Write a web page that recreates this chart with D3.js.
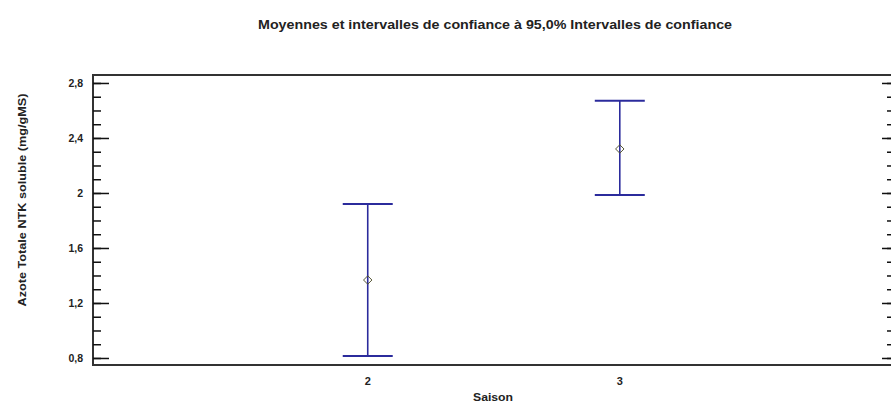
<!DOCTYPE html>
<html>
<head>
<meta charset="utf-8">
<script src="https://cdn.jsdelivr.net/npm/d3@7"></script>
<style>
  body { margin: 0; background: #fff; }
  svg text { font-family: "Liberation Sans", Arial, sans-serif; font-weight: bold; fill: #222; }
</style>
</head>
<body>
<div id="chart"></div>
<script>
// data
var saisons = [2, 3];
var moyennes = [1.367, 2.32];
var bornesInf = [0.815, 1.985];
var bornesSup = [1.92, 2.67];
var yTicks = [0.8, 1.2, 1.6, 2, 2.4, 2.8];
var xTicks = [2, 3];

var width = 891, height = 407;
var margin = {top: 75, right: -1, bottom: 42, left: 93};

var svg = d3.select("#chart")
  .append("svg")
  .attr("width", width)
  .attr("height", height);

var x = d3.scaleLinear()
  .domain([0.91, 4.08])
  .range([margin.left, width - margin.right]);

var y = d3.scaleLinear()
  .domain([0.749, 2.858])
  .range([height - margin.bottom, margin.top]);

var fmt = function (d) { return String(d).replace(".", ","); };

// title
svg.append("text")
  .attr("x", 495)
  .attr("y", 29)
  .attr("text-anchor", "middle")
  .attr("textLength", 474)
  .attr("lengthAdjust", "spacingAndGlyphs")
  .style("font-size", "12.5px")
  .text("Moyennes et intervalles de confiance à 95,0% Intervalles de confiance");

// frame
svg.append("rect")
  .attr("x", margin.left)
  .attr("y", margin.top)
  .attr("width", width - margin.right - margin.left)
  .attr("height", height - margin.bottom - margin.top)
  .attr("fill", "none")
  .attr("stroke", "#333")
  .attr("stroke-width", 2);

// minor ticks
var minor = d3.range(0.8, 2.81, 0.1);

// left axis
var left = svg.append("g")
  .attr("transform", "translate(" + margin.left + ",0)");
left.append("g")
  .call(d3.axisRight(y).tickValues(minor).tickSize(8).tickFormat(""))
  .call(function (g) { g.select(".domain").remove(); });
left.append("g")
  .call(d3.axisRight(y).tickValues(yTicks).tickSize(16).tickFormat(""))
  .call(function (g) { g.select(".domain").remove(); });
left.selectAll("line").attr("stroke", "#111").attr("stroke-width", 1.5);
svg.append("g")
  .selectAll("text")
  .data(yTicks)
  .enter()
  .append("text")
  .attr("x", margin.left - 10)
  .attr("y", function (d) { return y(d) + 4; })
  .attr("text-anchor", "end")
  .style("font-size", "10.5px")
  .text(fmt);

// right axis ticks (inward)
var right = svg.append("g")
  .attr("transform", "translate(" + (width - margin.right) + ",0)");
right.append("g")
  .call(d3.axisLeft(y).tickValues(minor).tickSize(5).tickFormat(""))
  .call(function (g) { g.select(".domain").remove(); });
right.append("g")
  .call(d3.axisLeft(y).tickValues(yTicks).tickSize(10).tickFormat(""))
  .call(function (g) { g.select(".domain").remove(); });
right.selectAll("line").attr("stroke", "#111").attr("stroke-width", 1.5);

// x tick labels
svg.append("g")
  .selectAll("text")
  .data(xTicks)
  .enter()
  .append("text")
  .attr("x", function (d) { return x(d); })
  .attr("y", height - margin.bottom + 20)
  .attr("text-anchor", "middle")
  .style("font-size", "11px")
  .text(function (d) { return d; });

// axis titles
svg.append("text")
  .attr("x", 493)
  .attr("y", 401)
  .attr("text-anchor", "middle")
  .attr("textLength", 40)
  .attr("lengthAdjust", "spacingAndGlyphs")
  .style("font-size", "11.5px")
  .text("Saison");

svg.append("text")
  .attr("transform", "translate(26,200) rotate(-90)")
  .attr("text-anchor", "middle")
  .attr("textLength", 213)
  .attr("lengthAdjust", "spacingAndGlyphs")
  .style("font-size", "11.5px")
  .text("Azote Totale NTK soluble (mg/gMS)");

// error bars
var blue = "#2b2b9c";
var bars = svg.append("g")
  .selectAll("g")
  .data(saisons)
  .enter()
  .append("g");

bars.append("line")
  .attr("x1", function (d) { return x(d); })
  .attr("x2", function (d) { return x(d); })
  .attr("y1", function (d, i) { return y(bornesInf[i]); })
  .attr("y2", function (d, i) { return y(bornesSup[i]); })
  .attr("stroke", blue)
  .attr("stroke-width", 1.6);

bars.append("line")
  .attr("x1", function (d) { return x(d) - 25; })
  .attr("x2", function (d) { return x(d) + 25; })
  .attr("y1", function (d, i) { return y(bornesSup[i]); })
  .attr("y2", function (d, i) { return y(bornesSup[i]); })
  .attr("stroke", blue)
  .attr("stroke-width", 2);

bars.append("line")
  .attr("x1", function (d) { return x(d) - 25; })
  .attr("x2", function (d) { return x(d) + 25; })
  .attr("y1", function (d, i) { return y(bornesInf[i]); })
  .attr("y2", function (d, i) { return y(bornesInf[i]); })
  .attr("stroke", blue)
  .attr("stroke-width", 2);

// mean markers (diamonds)
bars.append("path")
  .attr("transform", function (d, i) { return "translate(" + x(d) + "," + y(moyennes[i]) + ")"; })
  .attr("d", d3.symbol().type(d3.symbolDiamond2).size(45))
  .attr("fill", "none")
  .attr("stroke", "#555533")
  .attr("stroke-width", 1);
</script>
</body>
</html>
